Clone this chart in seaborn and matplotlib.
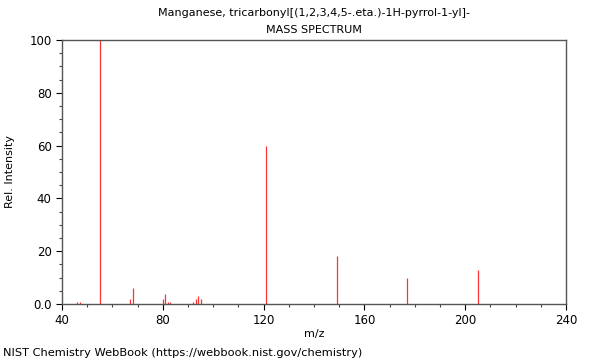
import matplotlib
matplotlib.use("Agg")
import matplotlib.pyplot as plt
import seaborn as sns
import pandas as pd
from matplotlib.ticker import MultipleLocator, FixedLocator

mz = [46, 47, 55, 67, 68, 80, 81, 82, 83, 92, 93, 94, 95, 121, 149, 177, 205]
intensity = [0.9, 0.9, 100, 1.9, 5.9, 1.9, 3.9, 0.9, 0.9, 0.9, 1.9, 2.9, 1.9, 60, 18, 10, 13]
title_lines = ["Manganese, tricarbonyl[(1,2,3,4,5-.eta.)-1H-pyrrol-1-yl]-", "MASS SPECTRUM"]
x_ticks = [40, 80, 120, 160, 200, 240]
y_ticks = [0, 20, 40, 60, 80, 100]
y_tick_labels = ["0.0", "20", "40", "60", "80", "100"]

df = pd.DataFrame({"mz": mz, "intensity": intensity})

sns.set_style("ticks")
plt.rcParams['font.family'] = ['DejaVu Sans']
plt.rcParams['text.color'] = 'black'
plt.rcParams['axes.labelcolor'] = 'black'

fig = plt.figure(figsize=(6, 3.6), dpi=100)
ax = fig.add_axes([62/600, 1 - 304/360, 504/600, 264/360])

ax.vlines(df["mz"], 0, df["intensity"], colors="#ff3333", linewidth=0.9)

ax.set_xlim(40, 240)
ax.set_ylim(0, 100)
ax.xaxis.set_major_locator(FixedLocator(x_ticks))
ax.xaxis.set_minor_locator(MultipleLocator(10))
ax.yaxis.set_major_locator(FixedLocator(y_ticks))
ax.set_yticklabels(y_tick_labels)
ax.yaxis.set_minor_locator(MultipleLocator(5))
ax.tick_params(axis="both", which="major", length=4, width=0.8, labelsize=8.5, colors="black", direction="out")
ax.tick_params(axis="both", which="minor", length=2.5, width=0.8, colors="#444444")
ax.tick_params(top=False, right=False, which="both")
for s in ax.spines.values():
    s.set_color("#555555")
    s.set_linewidth(1.0)
ax.set_xlabel("m/z", fontsize=8, labelpad=1.5)
ax.set_ylabel("Rel. Intensity", fontsize=8, labelpad=10)

fig.text(314/600, 1 - 13/360, title_lines[0], ha="center", va="center", fontsize=8)
fig.text(314/600, 1 - 30/360, title_lines[1], ha="center", va="center", fontsize=8)
fig.text(3/600, 1 - 353/360, "NIST Chemistry WebBook (https://webbook.nist.gov/chemistry)", ha="left", va="center", fontsize=8.2)

fig.savefig("out.png", dpi=100)
